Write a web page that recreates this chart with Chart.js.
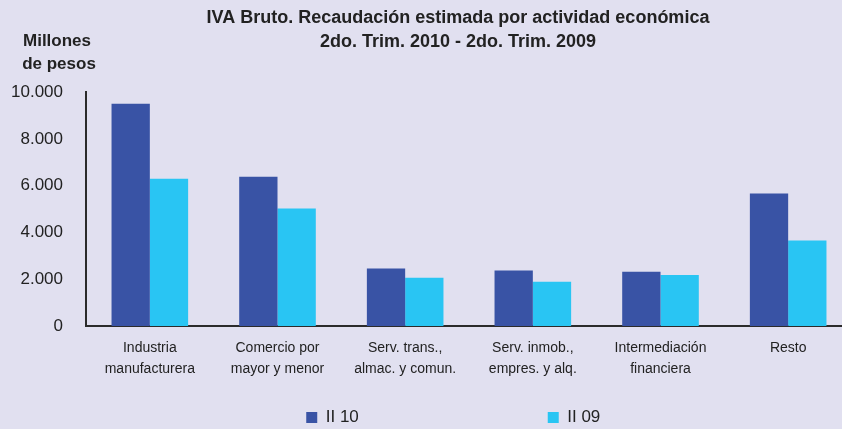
<!DOCTYPE html>
<html>
<head>
<meta charset="utf-8">
<script src="https://cdn.jsdelivr.net/npm/chart.js@4/dist/chart.umd.min.js"></script>
<style>
  html, body { margin: 0; padding: 0; background: #e1e0f0; overflow: hidden; }
  #wrap { width: 916px; height: 429px; }
</style>
</head>
<body>
<div id="wrap"><canvas id="myChart" width="916" height="429"></canvas></div>
<script>
const categories = [
  ['Industria', 'manufacturera'],
  ['Comercio por', 'mayor y menor'],
  ['Serv. trans.,', 'almac. y comun.'],
  ['Serv. inmob.,', 'empres. y alq.'],
  ['Intermediación', 'financiera'],
  ['Resto']
];
const seriesNames = ['II 10', 'II 09'];
const values2010 = [9500, 6380, 2460, 2370, 2320, 5660];
const values2009 = [6300, 5020, 2060, 1890, 2180, 3650];
const yTicks = [0, 2000, 4000, 6000, 8000, 10000];

const ink = '#222222';
const font = 'Liberation Sans, Arial, sans-serif';

// "Millones de pesos" sits above the y axis, not rotated
const unitLabel = {
  id: 'unitLabel',
  afterDraw(chart) {
    const ctx = chart.ctx;
    ctx.save();
    ctx.fillStyle = ink;
    ctx.font = 'bold 17px ' + font;
    ctx.textAlign = 'center';
    ctx.textBaseline = 'middle';
    ctx.fillText('Millones', 57, 41);
    ctx.fillText('de pesos', 59, 64);
    ctx.restore();
  }
};

// legend items are padded so they sit far apart like the original
const pad = n => ' '.repeat(n);

const ctx = document.getElementById('myChart').getContext('2d');
new Chart(ctx, {
  type: 'bar',
  data: {
    labels: categories,
    datasets: [
      { label: seriesNames[0], data: values2010, backgroundColor: '#3953a5' },
      { label: seriesNames[1], data: values2009, backgroundColor: '#29c5f3' }
    ]
  },
  options: {
    responsive: false,
    animation: false,
    categoryPercentage: 0.6,
    barPercentage: 1.0,
    layout: { padding: { top: 0, left: 0, right: 0, bottom: -7 } },
    plugins: {
      title: {
        display: true,
        text: ['IVA Bruto. Recaudación estimada por actividad económica', '2do. Trim. 2010 - 2do. Trim. 2009'],
        color: ink,
        font: { family: font, size: 18, weight: 'bold', lineHeight: 1.28 },
        padding: { top: 7, bottom: 39 }
      },
      legend: {
        position: 'bottom',
        labels: {
          color: ink,
          font: { family: font, size: 17 },
          boxWidth: 11,
          boxHeight: 11,
          padding: 0,
          generateLabels(chart) {
            const items = Chart.defaults.plugins.legend.labels.generateLabels(chart);
            items[0].text = items[0].text + pad(40);
            items[1].text = items[1].text + pad(2);
            items.forEach(it => { it.lineWidth = 0; });
            return items;
          }
        }
      },
      tooltip: { enabled: false }
    },
    scales: {
      x: {
        afterFit(scale) { scale.height = 83; },
        grid: { display: false, drawTicks: false },
        border: { color: '#2b2b2b', width: 2 },
        ticks: { color: ink, font: { family: font, size: 14, lineHeight: 1.5 }, padding: 12, maxRotation: 0, autoSkip: false }
      },
      y: {
        min: 0,
        max: 10000,
        afterFit(scale) { scale.width = 86; },
        afterBuildTicks(scale) { scale.ticks = yTicks.map(v => ({ value: v })); },
        grid: { display: false, drawTicks: false },
        border: { color: '#2b2b2b', width: 2 },
        ticks: {
          color: ink,
          font: { family: font, size: 17 },
          padding: 23,
          callback: v => String(v).replace(/\B(?=(\d{3})+(?!\d))/g, '.')
        }
      },
      yR: {
        position: 'right',
        grid: { display: false, drawTicks: false },
        border: { display: false },
        ticks: { display: false },
        afterFit(scale) { scale.width = 64; }
      }
    }
  },
  plugins: [unitLabel]
});
</script>
</body>
</html>
